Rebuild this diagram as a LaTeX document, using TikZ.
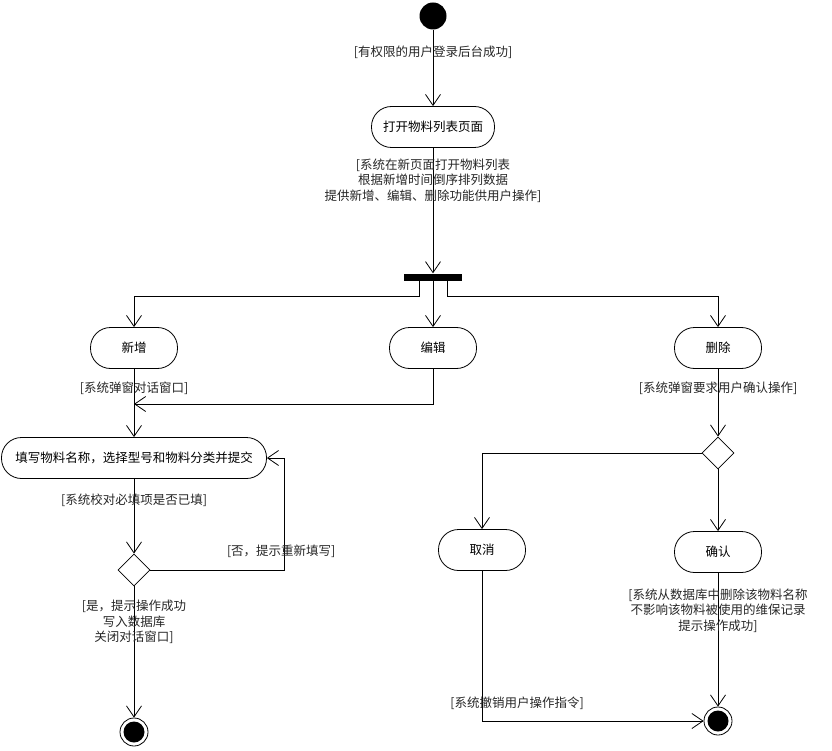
\documentclass[tikz,border=0pt]{standalone}
\usepackage{fontspec}
\setmainfont{Noto Sans CJK SC}
\usepackage{tikz}
\usetikzlibrary{shapes.geometric, arrows.meta}
\tikzstyle{startstop} = [circle, fill=black, minimum size=27pt, inner sep=0pt]
\tikzstyle{finish} = [circle, draw=black, line width=0.8pt, minimum size=28pt, inner sep=0pt, path picture={\fill[black] (path picture bounding box.center) circle (10.5pt);}]
\tikzstyle{activity} = [rectangle, rounded corners=20pt, minimum width=87pt, minimum height=41pt, text centered, draw=black, line width=0.8pt]
\tikzstyle{fork} = [rectangle, fill=black, minimum width=58pt, minimum height=7pt, inner sep=0pt]
\tikzstyle{decision} = [diamond, minimum width=32pt, minimum height=32pt, inner sep=0pt, draw=black, line width=0.8pt]
\tikzstyle{arrow} = [line width=0.8pt, ->, >={Straight Barb[length=11pt, width=15pt]}]
\tikzstyle{guard} = [align=center, text=black!85]

\begin{document}
\begin{tikzpicture}[node distance=110pt, every node/.style={font=\fontsize{12.5pt}{15.5pt}\selectfont}]
\useasboundingbox (0,0) rectangle (832pt,-751pt);
\node (start) [startstop] at (433pt,-16pt) {};
\node (open) [activity, below of=start, yshift=-1pt, minimum width=123pt] {打开物料列表页面};
\node (bar) [fork, below of=open, yshift=-40pt] {};
\node (edit) [activity, below of=bar, yshift=39pt] {编辑};
\node (add) [activity, left of=edit, xshift=-189pt] {新增};
\node (del) [activity, right of=edit, xshift=175pt] {删除};
\node (fill) [activity, below of=add, minimum width=265pt] {填写物料名称，选择型号和物料分类并提交};
\node (check) [decision, below of=fill, yshift=-2pt] {};
\node (end1) [finish, below of=check, yshift=-52pt] {};
\coordinate [below of=add, yshift=54pt] (join);
\node (ask) [decision, below of=del, yshift=5pt] {};
\node (ok) [activity, below of=ask, yshift=11pt] {确认};
\node (cancel) [activity, left of=ok, xshift=-126pt, yshift=2pt] {取消};
\node (end2) [finish, below of=ok, yshift=-59pt] {};
\draw [arrow] (start) -- node[guard, pos=0.3] {[有权限的用户登录后台成功]} (open);
\draw [arrow] (open) -- node[guard, pos=0.26] {[系统在新页面打开物料列表\\根据新增时间倒序排列数据\\提供新增、编辑、删除功能供用户操作]} (bar);
\draw [arrow] ([xshift=-14pt]bar.south) -- ++(0,-16pt) -| (add);
\draw [arrow] (bar) -- (edit);
\draw [arrow] ([xshift=14pt]bar.south) -- ++(0,-16pt) -| (del);
\draw [arrow] (add) -- node[guard, pos=0.28] {[系统弹窗对话窗口]} (fill);
\draw [arrow] (edit) |- (join);
\draw [arrow] (fill) -- node[guard, pos=0.28] {[系统校对必填项是否已填]} (check);
\draw [arrow] (check.east) -| node[guard, pos=0.49, yshift=19pt] {[否，提示重新填写]} ([xshift=17pt]fill.east) -- (fill.east);
\draw [arrow] (check) -- node[guard, pos=0.27] {[是，提示操作成功\\写入数据库\\关闭对话窗口]} (end1);
\draw [arrow] (del) -- node[guard, pos=0.28] {[系统弹窗要求用户确认操作]} (ask);
\draw [arrow] (ask) -| (cancel);
\draw [arrow] (ask) -- (ok);
\draw [arrow] (ok) -- node[guard, pos=0.28] {[系统从数据库中删除该物料名称\\不影响该物料被使用的维保记录\\提示操作成功]} (end2);
\draw [arrow] (cancel) |- node[guard, pos=0.44, xshift=35pt] {[系统撤销用户操作指令]} (end2);
\end{tikzpicture}
\end{document}
